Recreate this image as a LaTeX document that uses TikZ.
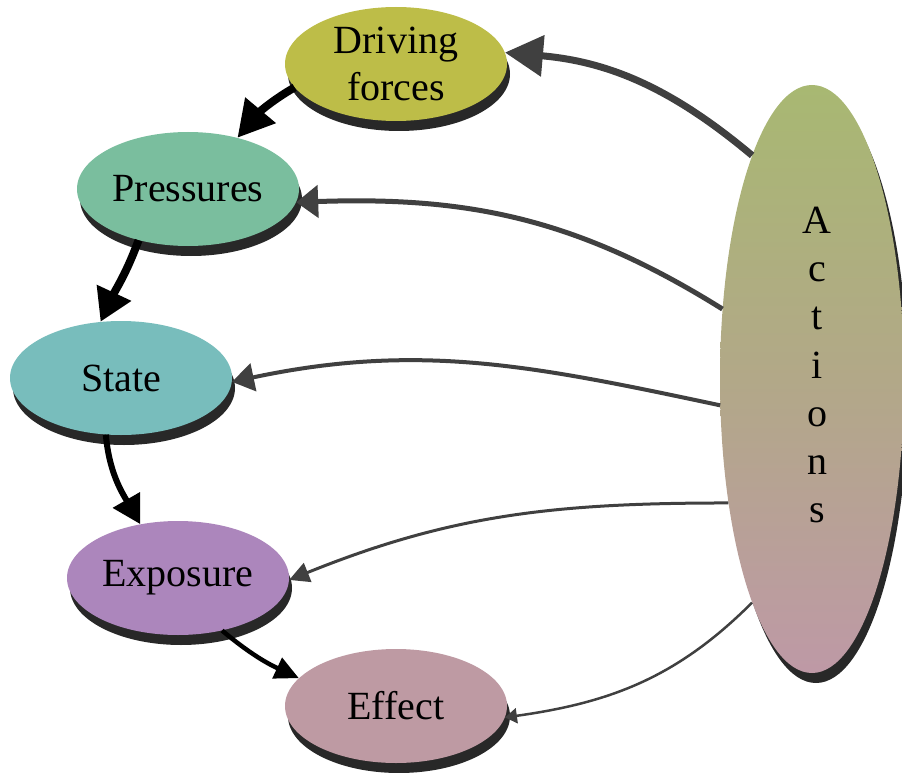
\documentclass[tikz,border=0pt]{standalone}
\usepackage{fontspec}
\setmainfont{Liberation Serif}
\usetikzlibrary{shapes.geometric,shadows,arrows.meta}
\definecolor{cDrive}{RGB}{189,189,72}
\definecolor{cPress}{RGB}{122,190,158}
\definecolor{cState}{RGB}{120,189,188}
\definecolor{cExpo}{RGB}{172,134,188}
\definecolor{cEffect}{RGB}{190,154,163}
\definecolor{actTop}{RGB}{168,184,114}
\definecolor{actMid}{RGB}{178,168,136}
\definecolor{actBot}{RGB}{190,153,166}
\definecolor{cShadow}{RGB}{40,40,40}
\definecolor{cArrow}{RGB}{64,64,64}
\begin{document}
\begin{tikzpicture}[x=1pt,y=-1pt,
  bub/.style={ellipse, minimum width=222pt, minimum height=114pt, inner sep=0pt,
    font=\fontsize{40}{47}\selectfont, align=center,
    drop shadow={shadow xshift=3pt,shadow yshift=-10pt,fill=cShadow,opacity=1}},
  actbub/.style={ellipse, minimum width=184pt, minimum height=588pt, inner sep=0pt,
    top color=actTop, bottom color=actBot, middle color=actMid,
    drop shadow={shadow xshift=4pt,shadow yshift=-10pt,fill=cShadow,opacity=1}},
  chainarrow/.style={draw=black, line cap=butt},
  actarrow/.style={draw=cArrow, line cap=butt}]
\useasboundingbox (0,0) rectangle (902,773);

\node[actbub] (ac) at (812,379) {};
\node[font=\fontsize{40}{48.3}\selectfont, align=center, inner sep=0pt] (aclabel) at (817,365) {A\\c\\t\\i\\o\\n\\s};

\node[bub, fill=cDrive] (dr) at (396,64) {Driving\\forces};
\node[bub, fill=cPress] (pr) at (188,189) {Pressures};
\node[bub, fill=cState] (st) at (121,378) {State};
\node[bub, fill=cExpo] (ex) at (178,578) {Exposure};
\node[bub, fill=cEffect] (ef) at (396,706) {Effect};

% main chain
\draw[chainarrow, line width=8pt, -{Triangle[length=36pt,width=38pt]}]
  (dr.193) to[out=210,in=50] (pr.46);
\draw[chainarrow, line width=8pt, -{Triangle[length=32pt,width=36pt]}]
  (pr.226) to[out=250,in=65] (st.110);
\draw[chainarrow, line width=6pt, -{Triangle[length=28pt,width=30pt]}]
  (st.255) to[out=275,in=120] (ex.125);
\draw[chainarrow, line width=4.5pt, -{Triangle[length=24pt,width=22pt]}]
  (ex.310) to[out=-40,in=155] (ef.164);

% actions
\draw[actarrow, line width=7pt, -{Triangle[length=38pt,width=40pt]}]
  (ac.105) to[out=140,in=-5] (dr.6);
\draw[actarrow, line width=5pt, -{Triangle[length=22pt,width=32pt]}]
  (ac.142) to[out=148,in=2] (pr.-7);
\draw[actarrow, line width=4pt, -{Triangle[length=22pt,width=28pt]}]
  (ac.196) to[out=168,in=12] (st.-2);
\draw[actarrow, line width=3pt, -{Triangle[length=20pt,width=20pt]}]
  (ac.236) to[out=180,in=22] (ex.-1);
\draw[actarrow, line width=2.5pt, -{Triangle[length=12pt,width=15pt]}]
  (ac.255) to[out=225,in=8] (ef.-6);
\end{tikzpicture}
\end{document}
